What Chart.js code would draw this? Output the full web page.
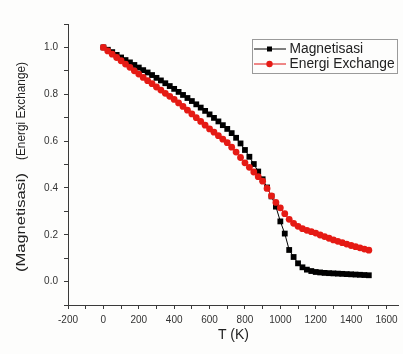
<!DOCTYPE html>
<html>
<head>
<meta charset="utf-8">
<script src="https://cdn.jsdelivr.net/npm/chart.js@4.4.1/dist/chart.umd.min.js"></script>
<style>
  html, body { margin: 0; padding: 0; background: #fdfdfc; }
  #wrap { width: 403px; height: 354px; position: relative; }
</style>
</head>
<body>
<div id="wrap"><canvas id="c" width="403" height="354"></canvas></div>
<script>
// Temperature (K)
const temperature = [
  0, 25, 50, 75, 100, 125, 150, 175, 200, 225, 250, 275, 300, 325, 350, 375,
  400, 425, 450, 475, 500, 525, 550, 575, 600, 625, 650, 675, 700, 725, 750, 775,
  800, 825, 850, 875, 900, 925, 950, 975, 1000, 1025, 1050, 1075, 1100, 1125, 1150, 1175,
  1200, 1225, 1250, 1275, 1300, 1325, 1350, 1375, 1400, 1425, 1450, 1475, 1500
];

// Normalised magnetisation
const magnetisasi = [
  1.000, 0.990, 0.980, 0.968, 0.957, 0.946, 0.936, 0.925, 0.914, 0.903, 0.893, 0.882, 0.870, 0.859, 0.847, 0.835,
  0.823, 0.810, 0.797, 0.784, 0.771, 0.757, 0.743, 0.729, 0.714, 0.699, 0.684, 0.668, 0.652, 0.634, 0.614, 0.590,
  0.562, 0.533, 0.502, 0.470, 0.437, 0.402, 0.364, 0.320, 0.257, 0.205, 0.135, 0.105, 0.078, 0.061, 0.051, 0.045,
  0.041, 0.039, 0.037, 0.036, 0.035, 0.034, 0.033, 0.032, 0.031, 0.030, 0.029, 0.028, 0.027
];

// Normalised exchange energy
const energiExchange = [
  1.000, 0.985, 0.971, 0.957, 0.943, 0.929, 0.915, 0.900, 0.886, 0.872, 0.858, 0.845, 0.831, 0.818, 0.804, 0.791,
  0.778, 0.763, 0.748, 0.732, 0.716, 0.700, 0.684, 0.668, 0.652, 0.638, 0.623, 0.608, 0.593, 0.574, 0.553, 0.530,
  0.507, 0.488, 0.468, 0.448, 0.429, 0.398, 0.366, 0.338, 0.315, 0.290, 0.266, 0.249, 0.236, 0.226, 0.219, 0.213,
  0.207, 0.199, 0.192, 0.185, 0.178, 0.172, 0.166, 0.160, 0.154, 0.149, 0.144, 0.139, 0.134
];

const seriesNames = ['Magnetisasi', 'Energi Exchange'];
const yTitleParts = ['(Magnetisasi)', '(Energi Exchange)'];
const xTickValues = [-200, -100, 0, 100, 200, 300, 400, 500, 600, 700, 800, 900, 1000, 1100, 1200, 1300, 1400, 1500, 1600];

const FONT = "'Liberation Sans', Arial, sans-serif";
const AXIS = '#3a3a3a';

// Two-part rotated y-axis title, each part fitted to its own span
const yTitle = {
  id: 'yTitle',
  afterDraw(chart) {
    const ctx = chart.ctx;
    const parts = [
      { text: yTitleParts[0], center: 222.5, width: 99 },
      { text: yTitleParts[1], center: 111, width: 98 }
    ];
    ctx.save();
    ctx.fillStyle = '#222';
    ctx.font = '12px ' + FONT;
    ctx.textAlign = 'center';
    ctx.textBaseline = 'middle';
    parts.forEach(p => {
      const natural = ctx.measureText(p.text).width;
      ctx.save();
      ctx.translate(21.5, p.center);
      ctx.rotate(-Math.PI / 2);
      ctx.scale(p.width / natural, 1);
      ctx.fillText(p.text, 0, 0);
      ctx.restore();
    });
    ctx.restore();
  }
};

// Boxed legend in the upper right corner
const boxLegend = {
  id: 'boxLegend',
  afterDraw(chart) {
    const ctx = chart.ctx;
    const x0 = 252.5, y0 = 39.5, w = 145, h = 34;
    ctx.save();
    ctx.fillStyle = '#fdfdfc';
    ctx.fillRect(x0, y0, w, h);
    ctx.strokeStyle = '#9a9a9a';
    ctx.lineWidth = 1;
    ctx.strokeRect(x0, y0, w, h);
    const rows = [49, 64];
    chart.data.datasets.forEach((ds, i) => {
      const y = rows[i];
      ctx.strokeStyle = ds.borderColor;
      ctx.lineWidth = 1;
      ctx.beginPath();
      ctx.moveTo(254, y);
      ctx.lineTo(286, y);
      ctx.stroke();
      ctx.fillStyle = ds.pointBackgroundColor;
      if (ds.pointStyle === 'rect') {
        ctx.fillRect(269.5 - 2.5, y - 2.5, 5, 5);
      } else {
        ctx.beginPath();
        ctx.arc(269.5, y, 3.2, 0, Math.PI * 2);
        ctx.fill();
      }
      ctx.fillStyle = '#222';
      ctx.font = '13.8px ' + FONT;
      ctx.textBaseline = 'middle';
      ctx.textAlign = 'left';
      ctx.fillText(ds.label, 289.5, y);
    });
    ctx.restore();
  }
};

new Chart(document.getElementById('c'), {
  type: 'line',
  data: {
    labels: temperature,
    datasets: [
      {
        label: seriesNames[0],
        data: temperature.map((t, i) => ({ x: t, y: magnetisasi[i] })),
        borderColor: '#000000',
        backgroundColor: '#000000',
        pointBackgroundColor: '#000000',
        pointBorderColor: '#000000',
        pointStyle: 'rect',
        pointRadius: 4.1,
        pointBorderWidth: 0,
        borderWidth: 1,
        order: 1
      },
      {
        label: seriesNames[1],
        data: temperature.map((t, i) => ({ x: t, y: energiExchange[i] })),
        borderColor: '#e01010',
        backgroundColor: '#e51a14',
        pointBackgroundColor: '#e51a14',
        pointBorderColor: '#e51a14',
        pointStyle: 'circle',
        pointRadius: 3.4,
        pointBorderWidth: 0,
        borderWidth: 1,
        order: 0
      }
    ]
  },
  options: {
    responsive: false,
    animation: false,
    devicePixelRatio: 1,
    layout: { padding: { top: 24, right: 0, bottom: 0, left: 0 } },
    plugins: {
      legend: { display: false },
      tooltip: { enabled: false }
    },
    scales: {
      x: {
        type: 'linear',
        min: -200,
        max: 1670,
        afterBuildTicks(scale) {
          scale.ticks = xTickValues.map(v => ({ value: v }));
        },
        afterFit(scale) {
          scale.height = 49;
          scale.paddingLeft = 0;
          scale.paddingRight = 0;
        },
        grid: {
          display: true,
          drawOnChartArea: false,
          drawTicks: true,
          tickLength: 4,
          tickColor: AXIS
        },
        border: { display: true, color: AXIS, width: 1 },
        ticks: {
          autoSkip: false,
          maxRotation: 0,
          padding: 5,
          color: '#333',
          font: { family: FONT, size: 10 },
          callback: v => (v % 200 === 0 ? String(v) : '')
        },
        title: {
          display: true,
          text: 'T (K)',
          color: '#222',
          font: { family: FONT, size: 14 },
          padding: { top: 0, bottom: 10 }
        }
      },
      y: {
        type: 'linear',
        min: -0.1,
        max: 1.1,
        afterBuildTicks(scale) {
          const t = [];
          for (let k = -1; k <= 11; k++) t.push({ value: k / 10 });
          scale.ticks = t;
        },
        afterFit(scale) {
          scale.width = 68;
          scale.paddingTop = 0;
          scale.paddingBottom = 0;
        },
        grid: {
          display: true,
          drawOnChartArea: false,
          drawTicks: true,
          tickLength: 4,
          tickColor: AXIS
        },
        border: { display: true, color: AXIS, width: 1 },
        ticks: {
          autoSkip: false,
          padding: 6,
          color: '#333',
          font: { family: FONT, size: 10 },
          callback: v => {
            const k = Math.round(v * 10);
            return (k >= 0 && k <= 10 && k % 2 === 0) ? (k / 10).toFixed(1) : '';
          }
        },
        title: { display: false }
      }
    }
  },
  plugins: [yTitle, boxLegend]
});
</script>
</body>
</html>
